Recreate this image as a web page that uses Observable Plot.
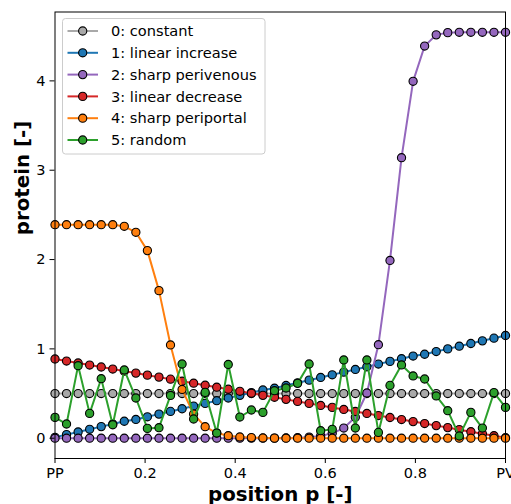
<!DOCTYPE html>
<html>
<head>
<meta charset="utf-8">
<script src="https://cdn.jsdelivr.net/npm/d3@7"></script>
<script src="https://cdn.jsdelivr.net/npm/@observablehq/plot@0.6"></script>
<style>
  html, body { margin: 0; padding: 0; background: white; }
  #chart { width: 511px; height: 504px; overflow: hidden; }
</style>
</head>
<body>
<div id="chart"></div>
<script>
// positions along the sinusoid (40 samples), PP = 0, PV = 1
const positions = [0, 0.0256, 0.0513, 0.0769, 0.1026, 0.1282, 0.1538, 0.1795, 0.2051, 0.2308,
  0.2564, 0.2821, 0.3077, 0.3333, 0.3590, 0.3846, 0.4103, 0.4359, 0.4615, 0.4872,
  0.5128, 0.5385, 0.5641, 0.5897, 0.6154, 0.6410, 0.6667, 0.6923, 0.7179, 0.7436,
  0.7692, 0.7949, 0.8205, 0.8462, 0.8718, 0.8974, 0.9231, 0.9487, 0.9744, 1];

const seriesNames = ["0: constant", "1: linear increase", "2: sharp perivenous",
  "3: linear decrease", "4: sharp periportal", "5: random"];
const seriesColors = ["#a9a9a9", "#1f77b4", "#9467bd", "#d62728", "#ff7f0e", "#2ca02c"];

const constant = [0.5, 0.5, 0.5, 0.5, 0.5, 0.5, 0.5, 0.5, 0.5, 0.5,
  0.5, 0.5, 0.5, 0.5, 0.5, 0.5, 0.5, 0.5, 0.5, 0.5,
  0.5, 0.5, 0.5, 0.5, 0.5, 0.5, 0.5, 0.5, 0.5, 0.5,
  0.5, 0.5, 0.5, 0.5, 0.5, 0.5, 0.5, 0.5, 0.5, 0.5];
const linearIncrease = [0.01, 0.04, 0.07, 0.10, 0.13, 0.16, 0.19, 0.21, 0.24, 0.27,
  0.30, 0.33, 0.36, 0.39, 0.42, 0.45, 0.48, 0.51, 0.54, 0.56,
  0.59, 0.62, 0.65, 0.68, 0.71, 0.74, 0.77, 0.80, 0.83, 0.86,
  0.89, 0.92, 0.94, 0.97, 1.00, 1.03, 1.06, 1.09, 1.12, 1.15];
const sharpPerivenous = [0, 0, 0, 0, 0, 0, 0, 0, 0, 0,
  0, 0, 0, 0, 0, 0, 0, 0, 0, 0.001,
  0.003, 0.006, 0.012, 0.026, 0.055, 0.114, 0.235, 0.506, 1.047, 1.99,
  3.14, 3.995, 4.39, 4.515, 4.54, 4.544, 4.544, 4.544, 4.544, 4.544];
const linearDecrease = [0.887, 0.864, 0.842, 0.819, 0.797, 0.774, 0.751, 0.729, 0.706, 0.684,
  0.661, 0.638, 0.616, 0.593, 0.571, 0.548, 0.525, 0.503, 0.480, 0.458,
  0.435, 0.412, 0.390, 0.367, 0.345, 0.322, 0.299, 0.277, 0.254, 0.232,
  0.209, 0.186, 0.164, 0.141, 0.119, 0.096, 0.073, 0.051, 0.028, 0.006];
const sharpPeriportal = [2.39, 2.39, 2.39, 2.39, 2.39, 2.39, 2.372, 2.305, 2.10, 1.652,
  1.044, 0.546, 0.27, 0.129, 0.058, 0.028, 0.014, 0.007, 0.003, 0.001,
  0, 0, 0, 0, 0, 0, 0, 0, 0, 0,
  0, 0, 0, 0, 0, 0, 0, 0, 0, 0];
const random = [0.233, 0.159, 0.812, 0.278, 0.666, 0.151, 0.764, 0.45, 0.11, 0.118,
  0.479, 0.831, 0.215, 0.513, 0.058, 0.826, 0.237, 0.316, 0.289, 0.532,
  0.562, 0.614, 0.831, 0.084, 0.099, 0.876, 0.114, 0.876, 0.065, 0.591,
  0.82, 0.697, 0.663, 0.473, 0.308, 0.025, 0.289, 0.114, 0.51, 0.345];

const seriesValues = [constant, linearIncrease, sharpPerivenous, linearDecrease, sharpPeriportal, random];

const xTicks = [0, 0.2, 0.4, 0.6, 0.8, 1];
const xTickLabels = ["PP", "0.2", "0.4", "0.6", "0.8", "PV"];
const yTicks = [0, 1, 2, 3, 4];
const yTickLabels = ["0", "1", "2", "3", "4"];

const rows = seriesValues.map((vals, s) =>
  vals.map((v, i) => ({p: positions[i], v, s})));

const marks = [];
rows.forEach((data, s) => {
  marks.push(Plot.line(data, {x: "p", y: "v", stroke: seriesColors[s], strokeWidth: 2}));
  marks.push(Plot.dot(data, {x: "p", y: "v", r: 4.1, fill: seriesColors[s], stroke: "black", strokeWidth: 1.1}));
});

const chart = Plot.plot({
  width: 511,
  height: 504,
  marginLeft: 54.5,
  marginRight: 6,
  marginTop: 11.5,
  marginBottom: 46,
  style: {fontFamily: "DejaVu Sans", fontSize: "14.5px", background: "white", color: "black"},
  x: {domain: [0, 1], label: null},
  y: {domain: [-0.227, 4.771], label: null},
  marks: [
    ...marks,
    Plot.frame({stroke: "black", strokeWidth: 1}),
    Plot.axisX({ticks: xTicks, tickFormat: (d, i) => xTickLabels[i], tickSize: 5, tickPadding: 4.5, fontSize: 14.5, label: null}),
    Plot.axisY({ticks: yTicks, tickFormat: (d, i) => yTickLabels[i], tickSize: 5, tickPadding: 4.5, fontSize: 14.5, label: null}),
    Plot.text(["position p [-]"], {frameAnchor: "bottom", dy: 42, lineAnchor: "bottom", fontSize: 19.8, fontWeight: "bold"}),
    Plot.text(["protein [-]"], {frameAnchor: "left", dx: -26, rotate: -90, lineAnchor: "bottom", fontSize: 19.8, fontWeight: "bold"})
  ]
});

document.getElementById("chart").appendChild(chart);

// legend (upper left, inside axes)
const svg = d3.select(chart);
const lg = svg.append("g").attr("font-family", "DejaVu Sans").attr("font-size", 14.6)
  .attr("text-anchor", "start");
lg.append("rect").attr("x", 62.5).attr("y", 18.5).attr("width", 202.5).attr("height", 135.5)
  .attr("rx", 3).attr("fill", "white").attr("fill-opacity", 0.8)
  .attr("stroke", "#cccccc").attr("stroke-width", 1);
seriesNames.forEach((name, s) => {
  const cy = 31 + s * 21.8;
  lg.append("line").attr("x1", 67.5).attr("x2", 98).attr("y1", cy).attr("y2", cy)
    .attr("stroke", seriesColors[s]).attr("stroke-width", 2);
  lg.append("circle").attr("cx", 82.7).attr("cy", cy).attr("r", 4.1)
    .attr("fill", seriesColors[s]).attr("stroke", "black").attr("stroke-width", 1.1);
  lg.append("text").attr("x", 111).attr("y", cy).attr("dy", "0.35em")
    .attr("text-anchor", "start").attr("fill", "black").text(name);
});
</script>
</body>
</html>
